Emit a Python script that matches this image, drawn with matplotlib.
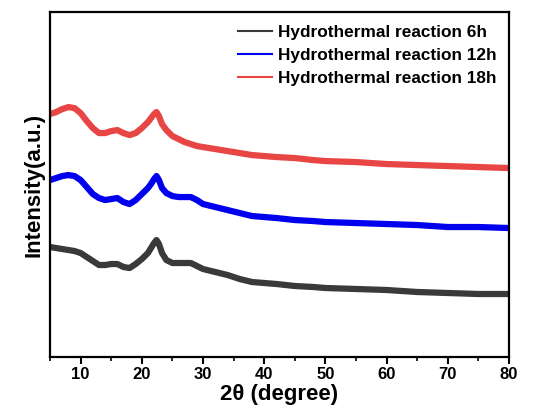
import matplotlib
matplotlib.use("Agg")
import matplotlib.pyplot as plt
from matplotlib.ticker import MultipleLocator

plt.rcParams['font.family'] = ['Liberation Sans', 'DejaVu Sans']
plt.rcParams['font.weight'] = 'bold'

two_theta = [5, 6, 7, 8, 9, 10, 11, 12, 13, 14, 15, 16, 17, 18, 19, 20, 21, 21.5, 22.0, 22.4, 22.8, 23.3, 24,
             25, 26, 27, 28, 29, 30, 32, 34, 36, 38, 40, 42, 45, 48, 50, 55, 60, 65, 70, 75, 80]
int_6h = [110, 109, 108, 107, 106, 104, 100, 96, 92, 92, 93, 93, 90, 89, 93, 98, 104, 109, 114, 117, 113, 104, 97,
          94, 94, 94, 94, 91, 88, 85, 82, 78, 75, 74, 73, 71, 70, 69, 68, 67, 65, 64, 63, 63]
int_12h = [177, 179, 181, 182, 181, 177, 170, 163, 159, 157, 158, 159, 155, 153, 157, 163, 169, 173, 178, 181, 177, 169, 164,
           161, 160, 160, 160, 157, 153, 150, 147, 144, 141, 140, 139, 137, 136, 135, 134, 133, 132, 130, 130, 129]
int_18h = [243, 245, 248, 250, 249, 244, 236, 229, 224, 224, 226, 227, 224, 222, 224, 229, 235, 239, 243, 245, 241, 233, 227,
           221, 218, 215, 213, 211, 210, 208, 206, 204, 202, 201, 200, 199, 197, 196, 195, 193, 192, 191, 190, 189]
labels = ["Hydrothermal reaction 6h", "Hydrothermal reaction 12h", "Hydrothermal reaction 18h"]
colors = ["#3a3a3a", "#0000ee", "#e84545"]

fig = plt.figure(figsize=(5.35, 4.18), dpi=100)
ax = fig.add_axes([0.0935, 0.146, 0.858, 0.825])

for ys, lab, c in zip([int_6h, int_12h, int_18h], labels, colors):
    ax.plot(two_theta, ys, color=c, lw=4.5, label=lab, solid_joinstyle='round')

ax.set_xlim(5, 80)
ax.set_ylim(0, 345)
ax.xaxis.set_major_locator(MultipleLocator(10))
ax.xaxis.set_minor_locator(MultipleLocator(5))
ax.set_yticks([])
ax.tick_params(axis='x', which='major', direction='out', length=5, width=1.5, labelsize=12, pad=2)
ax.tick_params(axis='x', which='minor', direction='out', length=3, width=1.2)
for lbl in ax.get_xticklabels():
    lbl.set_fontweight('bold')
for s in ax.spines.values():
    s.set_linewidth(1.6)

ax.set_xlabel("2θ (degree)", fontsize=16, fontweight='bold', labelpad=2)
ax.set_ylabel("Intensity(a.u.)", fontsize=16, fontweight='bold', labelpad=4)

leg = ax.legend(loc='upper right', frameon=False, fontsize=12.4, handlelength=2.0,
                handletextpad=0.3, labelspacing=0.45, borderaxespad=0.35)
for line in leg.get_lines():
    line.set_linewidth(1.5)
for t in leg.get_texts():
    t.set_fontweight('bold')

fig.savefig("out.png", dpi=100)
